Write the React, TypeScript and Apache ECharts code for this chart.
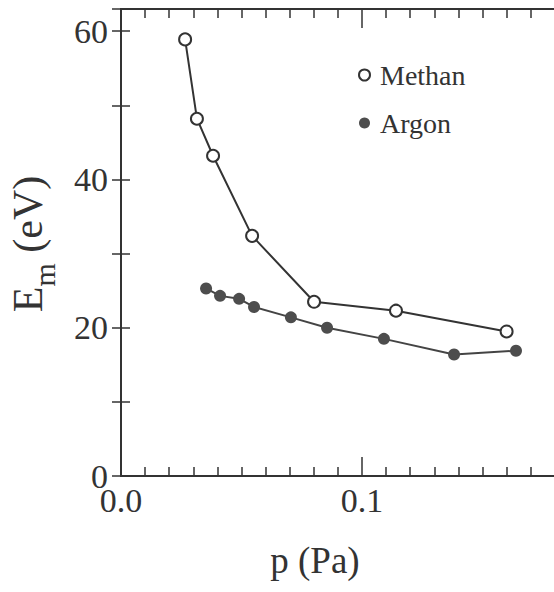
import React, { useEffect, useRef } from "react";
import * as echarts from "echarts";

const methanP = [0.0266, 0.0315, 0.0382, 0.0544, 0.0801, 0.1141, 0.16];
const methanE = [58.9, 48.2, 43.2, 32.4, 23.5, 22.3, 19.5];
const argonP = [0.0353, 0.0411, 0.049, 0.0552, 0.0705, 0.0855, 0.1091, 0.1382, 0.1639];
const argonE = [25.3, 24.3, 23.9, 22.8, 21.4, 20.0, 18.5, 16.4, 16.9];
const xTickLabels: Record<string, string> = { "0": "0.0", "0.1": "0.1" };
const yTickLabels = [0, 20, 40, 60];

const FONT = "Liberation Serif";
const INK = "#333";

export default function App() {
  const ref = useRef<HTMLDivElement>(null);
  useEffect(() => {
    if (!ref.current) return;
    const chart = echarts.init(ref.current, undefined, { renderer: "svg" });
    const fmtX = (v: number) => {
      if (Math.abs(v) < 1e-9) return xTickLabels["0"];
      if (Math.abs(v - 0.1) < 1e-9) return xTickLabels["0.1"];
      return "";
    };
    const xBase = {
      type: "value" as const,
      gridIndex: 0,
      min: 0,
      max: 0.2,
      interval: 0.1,
      splitLine: { show: false },
      axisLine: { show: true, lineStyle: { color: INK, width: 2 } },
      axisTick: { show: true, inside: true, length: 19, lineStyle: { color: INK, width: 1.5 } },
      minorTick: { show: true, splitNumber: 10, length: 9, lineStyle: { color: INK, width: 1.5 } },
    };
    const yBase = {
      type: "value" as const,
      min: 0,
      max: 63,
      interval: 10,
      splitLine: { show: false },
      axisLine: { show: true, lineStyle: { color: INK, width: 2 } },
      axisTick: { show: true, inside: true, length: 9, lineStyle: { color: INK, width: 1.5 } },
    };
    chart.setOption({
      animation: false,
      backgroundColor: "#fff",
      textStyle: { fontFamily: FONT, color: INK },
      // grid 0 runs past the right edge so that 0.2 closes a whole tick interval;
      // grid 1 only carries the visible right-hand frame with its ticks
      grid: [
        { left: 121, top: 9, width: 482, height: 467, containLabel: false, outerBoundsMode: "none" },
        { left: 121, top: 9, width: 432, height: 467, containLabel: false, outerBoundsMode: "none" },
      ],
      legend: {
        orient: "vertical",
        left: 353,
        top: 56,
        itemWidth: 11,
        itemHeight: 11,
        itemGap: 20,
        textStyle: { fontFamily: FONT, fontSize: 28, color: INK, lineHeight: 28, padding: [0, 0, 0, 5] },
        data: [
          { name: "Methan", icon: "emptyCircle" },
          { name: "Argon", icon: "circle" },
        ],
      },
      xAxis: [
        {
          ...xBase,
          position: "bottom",
          axisLabel: {
            show: true,
            interval: 0,
            formatter: fmtX,
            fontFamily: FONT,
            fontSize: 34,
            lineHeight: 34,
            color: INK,
            margin: 7,
          },
        },
        {
          ...xBase,
          position: "top",
          axisLabel: { show: false },
        },
        {
          type: "value",
          gridIndex: 1,
          min: 0,
          max: 1,
          show: false,
        },
      ],
      yAxis: [
        {
          ...yBase,
          gridIndex: 0,
          position: "left",
          axisLabel: {
            show: true,
            formatter: (v: number) => (yTickLabels.includes(v) ? String(v) : ""),
            fontFamily: FONT,
            fontSize: 34,
            lineHeight: 34,
            color: INK,
            margin: 13,
            showMaxLabel: false,
          },
        },
        { ...yBase, gridIndex: 1, position: "right", axisLabel: { show: false } },
      ],
      graphic: [
        {
          type: "text",
          x: 315,
          y: 560,
          style: {
            text: "p (Pa)",
            font: "37px Liberation Serif",
            fontFamily: FONT,
            fontSize: 37,
            fill: INK,
            align: "center",
            verticalAlign: "middle",
          },
        },
        {
          type: "text",
          x: 28,
          y: 244,
          rotation: Math.PI / 2,
          style: {
            text: "{a|E}{b|m}{a| (eV)}",
            align: "center",
            verticalAlign: "middle",
            fill: INK,
            fontFamily: FONT,
            rich: {
              a: { fontFamily: FONT, fontSize: 42, lineHeight: 42, verticalAlign: "top", fill: INK },
              b: { fontFamily: FONT, fontSize: 30, lineHeight: 30, padding: [22, 0, 0, 0], verticalAlign: "top", fill: INK },
            },
          },
        },
      ],
      series: [
        {
          name: "Methan",
          type: "line",
          xAxisIndex: 0,
          yAxisIndex: 0,
          data: methanP.map((p, i) => [p, methanE[i]]),
          symbol: "emptyCircle",
          symbolSize: 12,
          lineStyle: { color: INK, width: 2 },
          itemStyle: { color: INK, borderColor: INK, borderWidth: 2 },
        },
        {
          name: "Argon",
          type: "line",
          xAxisIndex: 0,
          yAxisIndex: 0,
          data: argonP.map((p, i) => [p, argonE[i]]),
          symbol: "circle",
          symbolSize: 12,
          lineStyle: { color: "#444", width: 2 },
          itemStyle: { color: "#4d4d4d" },
        },
      ],
    });
    return () => chart.dispose();
  }, []);
  return <div ref={ref} style={{ position: "fixed", left: 0, top: 0, width: 554, height: 592 }} />;
}
